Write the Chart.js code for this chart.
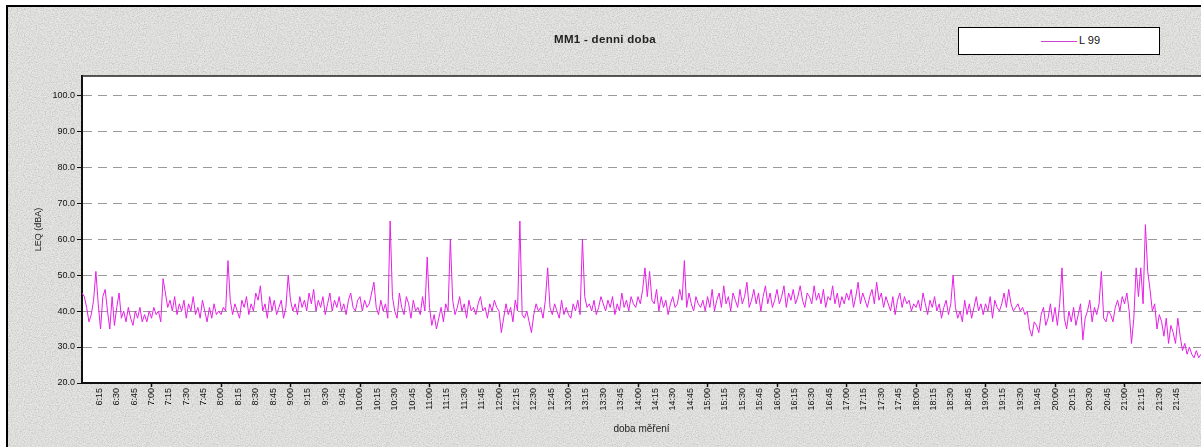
<!DOCTYPE html>
<html>
<head>
<meta charset="utf-8">
<script src="https://cdn.jsdelivr.net/npm/chart.js@4.4.1/dist/chart.umd.min.js"></script>
<style>
  html, body { margin:0; padding:0; background:#fff; width:1201px; height:447px; overflow:hidden; font-family:"Liberation Sans", Arial, sans-serif; }
  #frame { position:absolute; left:6px; top:5px; width:1220px; height:470px; border:2px solid #000;
    background-color:#e6e6e4;
    background-image:url("data:image/svg+xml;utf8,<svg xmlns='http://www.w3.org/2000/svg' width='240' height='240'><filter id='n'><feTurbulence type='fractalNoise' baseFrequency='0.85' numOctaves='3' stitchTiles='stitch'/><feColorMatrix type='matrix' values='0 0 0 0 0.4  0 0 0 0 0.4  0 0 0 0 0.39  1.1 0 0 0 -0.4'/></filter><rect width='100%' height='100%' filter='url(%23n)'/></svg>");
  }
  #chart { position:absolute; left:0; top:0; }
  #title { position:absolute; left:505px; width:200px; top:33px; text-align:center; font-weight:bold; font-size:11.5px; color:#222; letter-spacing:0.3px; }
  #legend { position:absolute; left:958px; top:27px; width:200px; height:26px; background:#fff; border:1.5px solid #000; }
  #legend .sw { position:absolute; left:82px; top:13px; width:36px; height:0; border-top:1.5px solid #cc44cc; }
  #legend .tx { position:absolute; left:120px; top:6px; font-size:11px; color:#111; }
</style>
</head>
<body>
<div id="frame"></div>
<canvas id="chart" width="1201" height="447"></canvas>
<div id="title">MM1 - denni doba</div>
<div id="legend"><div class="sw"></div><div class="tx">L 99</div></div>
<script>
// ---- data ----
const seriesName = "L 99";
const startClock = "6:00";          // first sample time
const sampleStepMin = 2;            // minutes between samples
// L99 values, one row per hour (6:00 ... 21:58) + tail
const l99Values = [
  45,44,41,37,39,43,51,42,35,44,46,40,35,44,36,41,45,38,40,37,41,38,36,40,38,41,37,39,37,40, // 6:00
  38,41,39,40,37,49,45,41,43,40,44,39,42,40,43,38,42,40,44,39,41,38,43,40,37,41,38,42,39,40, // 7:00
  39,41,40,54,43,39,42,40,38,43,41,44,39,42,40,45,43,47,40,42,38,44,40,43,39,41,43,38,41,50, // 8:00
  43,40,42,39,44,41,43,40,45,42,46,40,43,41,44,39,42,45,40,43,41,44,40,42,39,43,45,41,40,43, // 9:00
  44,40,43,41,42,45,48,41,39,43,40,42,38,65,44,40,38,45,41,39,44,42,38,43,40,41,39,44,40,55, // 10:00
  41,36,39,35,38,41,37,42,40,60,43,39,41,44,40,42,38,43,40,41,39,42,44,40,41,38,42,40,43,41, // 11:00
  40,34,38,42,39,41,37,43,40,65,39,38,40,37,34,39,42,40,41,38,43,52,41,39,42,40,38,43,39,41, // 12:00
  39,38,42,40,43,39,60,44,41,42,40,43,39,41,44,42,40,43,41,44,39,42,40,45,41,43,40,44,42,41, // 13:00
  44,42,46,52,44,51,43,42,46,40,44,41,43,39,42,44,41,42,46,43,54,41,45,42,40,44,42,41,43,40, // 14:00
  44,41,46,40,43,45,41,47,42,44,40,45,43,41,46,42,44,48,41,43,46,42,45,40,44,47,42,45,41,43, // 15:00
  46,42,44,47,41,45,43,46,42,44,47,43,41,45,44,42,47,43,45,42,46,41,44,43,47,42,45,41,44,42, // 16:00
  45,43,46,41,44,48,42,45,43,41,44,46,42,48,43,45,41,44,42,40,44,39,43,45,41,44,42,43,40,42, // 17:00
  41,43,40,45,42,39,43,41,44,40,42,38,41,43,39,42,50,41,38,40,37,43,39,42,38,41,44,40,42,39, // 18:00
  42,40,44,38,43,41,40,42,45,41,46,42,40,41,42,40,41,39,40,35,33,37,36,34,39,41,36,38,42,37, // 19:00
  41,36,42,52,38,35,40,37,41,36,39,42,32,38,40,43,37,41,39,42,51,38,37,40,39,37,41,43,40,44, // 20:00
  42,45,40,31,38,52,44,52,42,64,51,46,40,42,35,39,37,33,38,31,36,34,31,38,33,29,31,28,30,28, // 21:00
  27,29,27,28                                                                                // 22:00
];
const yTickValues = [20,30,40,50,60,70,80,90,100];
const xLabelEveryMin = 15;
const xFirstLabelMin = 15, xLastLabelMin = 945;
const yTitle = "LEQ (dBA)";
const xTitle = "doba měření";

// ---- build ----
const [h0, m0] = startClock.split(":").map(Number);
const startAbs = h0 * 60 + m0;
const points = l99Values.map((v, i) => ({ x: i * sampleStepMin, y: v }));
const fmt = v => { const t = startAbs + v; const h = Math.floor(t / 60); const m = t % 60; return h + ":" + String(m).padStart(2, "0"); };
const xLabelMins = [];
for (let m = xFirstLabelMin; m <= xLastLabelMin; m += xLabelEveryMin) xLabelMins.push(m);

const areaPlugin = {
  id: "area",
  beforeDraw(chart) {
    const { ctx, chartArea: a } = chart;
    ctx.save(); ctx.fillStyle = "#fff"; ctx.fillRect(a.left, a.top, a.right - a.left, a.bottom - a.top); ctx.restore();
  },
  afterDraw(chart) {
    const { ctx, chartArea: a } = chart;
    ctx.save(); ctx.strokeStyle = "#222"; ctx.lineWidth = 1.5;
    ctx.beginPath(); ctx.moveTo(a.left, a.top); ctx.lineTo(a.right, a.top); ctx.stroke(); ctx.restore();
  }
};

new Chart(document.getElementById("chart"), {
  type: "line",
  data: { datasets: [{ label: seriesName, data: points, borderColor: "#e620e6", borderWidth: 1, pointRadius: 0, tension: 0, fill: false }] },
  options: {
    responsive: false, animation: false, devicePixelRatio: 1,
    layout: { padding: { top: 76, left: 0, right: 0, bottom: 0 } },
    plugins: { legend: { display: false }, title: { display: false }, tooltip: { enabled: false } },
    scales: {
      x: {
        type: "linear", min: 0, max: 966,
        afterFit(s) { s.height = 64; },
        afterBuildTicks(s) { s.ticks = xLabelMins.map(v => ({ value: v })); },
        ticks: { autoSkip: false, minRotation: 90, maxRotation: 90, padding: 1, color: "#111",
                 font: { family: "Liberation Sans, Arial", size: 9 }, callback: v => fmt(v) },
        grid: { drawOnChartArea: false, drawTicks: true, tickLength: 4, tickWidth: 1.5,
                tickColor: c => (c.tick && c.tick.value % 60 === 0) ? "#111" : "rgba(0,0,0,0)" },
        border: { display: true, color: "#111", width: 2 },
        title: { display: true, text: xTitle, color: "#222", font: { family: "Liberation Sans, Arial", size: 10 }, padding: { top: 0, bottom: 12 } }
      },
      y: {
        min: 20, max: 105.3,
        afterFit(s) { s.width = 82; },
        afterBuildTicks(s) { s.ticks = yTickValues.map(v => ({ value: v })); },
        ticks: { color: "#111", padding: 2, font: { family: "Liberation Sans, Arial", size: 9 }, callback: v => Number(v).toFixed(1) },
        grid: { color: "#9a9a9a", lineWidth: 1, drawTicks: true, tickLength: 5, tickColor: "#111", tickWidth: 1 },
        border: { display: true, color: "#111", width: 2, dash: [9, 6] },
        title: { display: true, text: yTitle, color: "#222", font: { family: "Liberation Sans, Arial", size: 9 }, padding: { top: 33, bottom: 0 } }
      }
    }
  },
  plugins: [areaPlugin]
});
</script>
</body>
</html>
